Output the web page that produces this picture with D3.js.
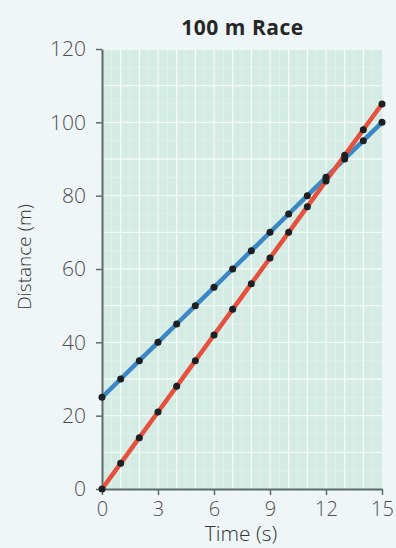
<!DOCTYPE html>
<html>
<head>
<meta charset="utf-8">
<script src="https://cdn.jsdelivr.net/npm/d3@7"></script>
<style>
  html, body { margin: 0; padding: 0; background: #eef6f7; }
  svg { display: block; }
</style>
</head>
<body>
<svg id="chart" width="396" height="548"></svg>
<script>
// Race data: distance covered at each whole second
const times = [0, 1, 2, 3, 4, 5, 6, 7, 8, 9, 10, 11, 12, 13, 14, 15];
const runnerA = [25, 30, 35, 40, 45, 50, 55, 60, 65, 70, 75, 80, 85, 90, 95, 100];   // blue, head start
const runnerB = [0, 7, 14, 21, 28, 35, 42, 49, 56, 63, 70, 77, 84, 91, 98, 105];      // red
const xTicks = [0, 3, 6, 9, 12, 15];
const yTicks = [0, 20, 40, 60, 80, 100, 120];

const svg = d3.select("#chart");
const margin = { left: 102, right: 14, top: 49, bottom: 59 };
const W = 396, H = 548;

const x = d3.scaleLinear().domain([0, 15]).range([margin.left, W - margin.right]);
const y = d3.scaleLinear().domain([0, 120]).range([H - margin.bottom, margin.top]);

// plot background
svg.append("rect")
  .attr("x", x(0)).attr("y", y(120))
  .attr("width", x(15) - x(0)).attr("height", y(0) - y(120))
  .attr("fill", "#d4ece4");

// grid: fine lines then main lines
const grid = svg.append("g");
grid.selectAll(".vminor").data(d3.range(0.5, 15, 1)).join("line")
  .attr("x1", d => x(d)).attr("x2", d => x(d))
  .attr("y1", y(0)).attr("y2", y(120))
  .attr("stroke", "#e4f3ee").attr("stroke-width", 0.8);
grid.selectAll(".hminor").data(d3.range(5, 120, 10)).join("line")
  .attr("x1", x(0)).attr("x2", x(15))
  .attr("y1", d => y(d)).attr("y2", d => y(d))
  .attr("stroke", "#e4f3ee").attr("stroke-width", 0.8);
grid.selectAll(".vmajor").data(d3.range(1, 15, 1)).join("line")
  .attr("x1", d => x(d)).attr("x2", d => x(d))
  .attr("y1", y(0)).attr("y2", y(120))
  .attr("stroke", "#f3fbf8").attr("stroke-width", 1.3);
grid.selectAll(".hmajor").data(d3.range(10, 121, 10)).join("line")
  .attr("x1", x(0)).attr("x2", x(15))
  .attr("y1", d => y(d)).attr("y2", d => y(d))
  .attr("stroke", "#f3fbf8").attr("stroke-width", 1.3);

// axes
const fontFam = "'Open Sans', 'Noto Sans', sans-serif";
const xAxis = svg.append("g")
  .attr("transform", `translate(0,${y(0)})`)
  .call(d3.axisBottom(x).tickValues(xTicks).tickSize(6).tickPadding(7).tickSizeOuter(0));
const yAxis = svg.append("g")
  .attr("transform", `translate(${x(0)},0)`)
  .call(d3.axisLeft(y).tickValues(yTicks).tickSize(6).tickPadding(10).tickSizeOuter(0));
[xAxis, yAxis].forEach(a => {
  a.select(".domain").attr("stroke", "#5f6b6b").attr("stroke-width", 2);
  a.selectAll(".tick line").attr("stroke", "#5f6b6b").attr("stroke-width", 1.5);
  a.selectAll(".tick text")
    .attr("fill", "#505050")
    .style("font-family", fontFam)
    .style("font-weight", 300)
    .style("font-size", "21px");
});
xAxis.selectAll(".tick text").style("font-size", "20px");

// lines and points
const line = d3.line().x(d => x(d[0])).y(d => y(d[1]));
const seriesA = times.map((t, i) => [t, runnerA[i]]);
const seriesB = times.map((t, i) => [t, runnerB[i]]);

svg.append("path").datum(seriesA).attr("d", line)
  .attr("fill", "none").attr("stroke", "#3d86c4").attr("stroke-width", 4.5);
svg.append("path").datum(seriesB).attr("d", line)
  .attr("fill", "none").attr("stroke", "#e5513e").attr("stroke-width", 4.5);

svg.append("g").selectAll("circle").data(seriesA.concat(seriesB)).join("circle")
  .attr("cx", d => x(d[0])).attr("cy", d => y(d[1])).attr("r", 3.5)
  .attr("fill", "#1d1f22");

// titles
svg.append("text")
  .attr("x", 242.5).attr("y", 35)
  .attr("text-anchor", "middle")
  .style("font-family", fontFam).style("font-weight", 700).style("font-size", "21px")
  .style("letter-spacing", "0.5px")
  .attr("fill", "#262626")
  .text("100 m Race");

svg.append("text")
  .attr("x", 241).attr("y", 541)
  .attr("text-anchor", "middle")
  .style("font-family", fontFam).style("font-weight", 300).style("font-size", "21px")
  .attr("fill", "#333")
  .text("Time (s)");

svg.append("text")
  .attr("transform", `translate(31,257) rotate(-90)`)
  .attr("text-anchor", "middle")
  .style("font-family", fontFam).style("font-weight", 300).style("font-size", "19px")
  .attr("fill", "#333")
  .text("Distance (m)");
</script>
</body>
</html>
